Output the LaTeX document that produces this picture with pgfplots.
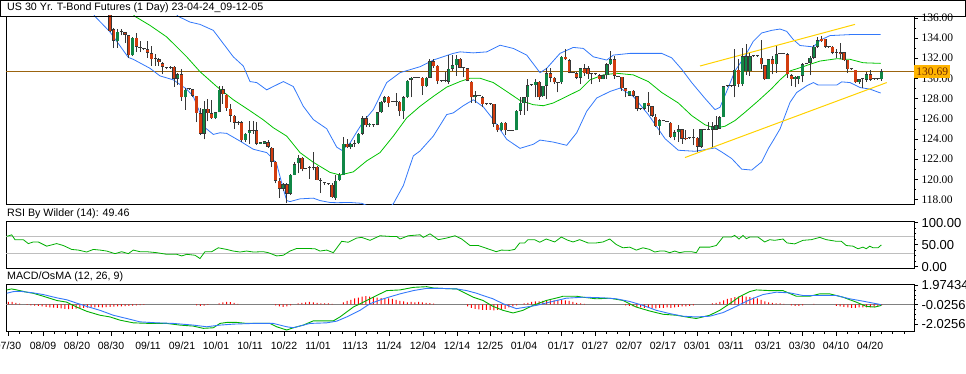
\documentclass[border=0pt]{standalone}
\usepackage{pgfplots}
\pgfplotsset{compat=1.18}
\usepackage{pgfplotstable}
\usepackage{fontspec}
\setmainfont{Liberation Sans}
\newfontfamily\serifnum{Liberation Serif}

\definecolor{upc}{RGB}{16,135,70}
\definecolor{dnc}{RGB}{210,60,15}
\definecolor{wick}{RGB}{55,55,55}
\definecolor{bandblue}{RGB}{50,120,250}
\definecolor{magreen}{RGB}{0,195,0}
\definecolor{trendy}{RGB}{255,210,0}
\definecolor{pbrown}{RGB}{155,100,15}
\definecolor{boxor}{RGB}{255,180,0}
\definecolor{pricetxt}{RGB}{110,40,0}
\definecolor{lgray}{RGB}{190,190,190}
\definecolor{zgray}{RGB}{128,128,128}

\pgfplotstableread{
k o h l c
0 137.00 137.30 134.60 134.70
1 134.86 135.00 133.00 133.72
2 133.70 134.85 133.03 134.60
3 134.60 134.90 134.25 134.65
4 134.57 134.60 133.50 134.34
5 134.28 134.30 132.05 132.28
6 132.28 134.10 132.20 134.00
7 134.05 134.50 132.60 133.13
8 133.00 133.70 132.60 133.05
9 132.95 133.00 132.80 132.90
10 132.87 133.70 132.05 132.54
11 132.48 133.20 131.23 131.89
12 131.90 132.40 131.23 131.92
13 131.89 132.05 131.23 131.63
14 131.50 131.63 130.42 131.17
15 131.05 131.10 130.90 131.05
16 131.10 131.20 130.95 131.12
17 131.13 131.23 129.17 129.99
18 129.99 130.58 129.34 130.42
19 130.42 130.97 127.80 128.13
20 128.13 129.10 126.88 128.88
21 128.94 128.95 128.93 128.94
22 128.94 128.94 128.13 128.29
23 128.29 128.30 125.67 126.56
24 126.56 127.05 124.40 124.53
25 124.53 127.80 123.97 126.98
26 126.98 127.96 125.74 126.56
27 126.56 127.90 126.00 126.06
28 126.06 126.70 126.00 126.65
29 126.65 129.27 126.65 128.88
30 128.94 129.27 127.47 128.45
31 128.39 128.45 126.80 127.05
32 126.98 127.47 125.67 126.33
33 126.33 126.40 125.00 125.60
34 125.60 125.80 125.40 125.67
35 125.67 125.74 123.71 123.87
36 123.87 124.60 123.70 124.53
37 124.60 125.74 123.55 124.85
38 124.85 125.74 124.50 124.90
39 124.85 125.70 123.40 123.55
40 123.55 123.75 123.50 123.70
41 123.55 123.85 123.50 123.80
42 123.70 123.90 123.10 123.22
43 123.15 123.22 121.25 121.75
44 121.75 121.80 119.60 119.88
45 119.88 120.10 118.15 119.06
46 119.06 119.60 118.90 119.52
47 119.52 119.60 117.66 118.57
48 118.57 120.50 118.50 120.44
49 120.44 121.75 120.44 121.52
50 121.60 122.40 120.60 122.17
51 122.17 122.25 120.80 121.00
52 121.09 121.15 121.00 121.09
53 121.20 121.30 120.05 121.26
54 121.10 122.70 120.90 121.20
55 121.26 121.30 119.90 119.95
56 119.95 120.10 118.64 119.85
57 119.70 119.70 119.45 119.60
58 119.52 119.55 119.50 119.52
59 119.46 119.60 118.15 118.25
60 118.15 120.44 117.98 119.88
61 119.95 120.60 119.80 120.44
62 120.44 124.20 120.44 123.55
63 123.55 124.00 123.10 123.20
64 123.20 123.60 123.00 123.55
65 123.55 123.90 123.20 123.60
66 123.60 124.60 123.50 124.53
67 124.53 126.33 124.40 126.06
68 126.06 126.30 125.20 125.35
69 125.35 125.60 125.20 125.50
70 125.45 125.50 125.20 125.35
71 125.41 126.70 125.35 126.65
72 126.65 127.80 126.60 127.70
73 127.70 128.30 127.60 128.13
74 128.20 128.30 127.14 127.57
75 127.70 127.72 127.68 127.70
76 127.70 128.55 127.30 127.75
77 127.70 127.75 126.33 126.75
78 126.75 128.29 126.00 128.13
79 128.13 129.80 128.10 129.76
80 129.86 130.10 128.13 130.09
81 130.09 130.11 130.07 130.09
82 130.09 130.11 130.07 130.09
83 130.09 130.10 128.35 129.21
84 129.21 130.10 129.15 130.09
85 130.09 131.95 130.09 131.72
86 131.72 131.95 131.07 131.23
87 131.23 131.30 129.43 129.73
88 129.73 129.75 129.71 129.73
89 129.70 130.64 129.60 129.80
90 129.66 132.28 129.43 130.97
91 130.97 132.28 130.74 131.30
92 131.30 132.28 130.25 131.95
93 131.95 132.00 131.00 131.07
94 131.07 131.10 130.10 131.07
95 131.00 131.07 129.70 129.76
96 129.66 129.70 127.57 128.13
97 128.13 128.78 127.57 128.35
98 128.30 128.32 128.28 128.30
99 128.13 128.29 127.14 127.47
100 127.47 127.49 127.45 127.47
101 127.47 127.49 127.45 127.47
102 127.47 127.47 125.18 125.51
103 125.41 125.45 124.69 124.85
104 124.85 125.70 124.80 125.61
105 125.61 125.65 124.36 124.85
106 124.85 124.87 124.83 124.85
107 124.85 124.87 124.83 124.85
108 124.85 126.90 124.85 126.82
109 126.82 128.13 126.39 127.57
110 127.57 128.20 126.39 128.13
111 128.13 129.92 126.82 129.34
112 129.34 129.36 129.32 129.34
113 129.34 129.92 128.13 129.66
114 129.66 129.70 127.90 128.13
115 128.22 129.30 128.20 129.27
116 129.27 131.07 127.96 130.51
117 130.51 131.07 129.60 130.09
118 130.09 130.10 129.43 129.60
119 129.60 129.62 128.62 129.60
120 129.60 132.21 129.43 132.12
121 132.12 132.87 131.80 131.89
122 131.79 131.89 130.50 130.58
123 130.58 130.60 130.56 130.58
124 130.51 130.64 129.92 130.09
125 130.09 131.07 129.43 131.00
126 131.00 131.40 130.25 130.51
127 131.00 131.20 129.92 130.41
128 130.41 130.43 129.43 130.41
129 130.41 130.43 130.39 130.41
130 130.32 130.41 129.66 129.92
131 129.92 130.35 129.90 130.32
132 130.32 131.56 129.92 131.40
133 131.40 132.71 131.30 131.89
134 131.89 132.21 129.99 130.25
135 130.19 130.21 130.17 130.19
136 130.15 130.15 128.78 129.01
137 129.01 129.05 128.13 128.71
138 128.29 128.80 128.25 128.78
139 128.78 128.90 128.20 128.29
140 128.22 128.22 126.75 126.98
141 126.98 127.00 126.96 126.98
142 126.98 127.60 126.90 127.57
143 127.57 128.68 126.65 127.31
144 127.24 127.30 126.16 126.33
145 126.23 126.49 125.18 125.28
146 125.28 126.00 124.43 125.84
147 125.84 125.86 125.82 125.84
148 125.74 125.76 125.72 125.74
149 125.61 125.67 124.10 124.20
150 124.20 124.85 123.87 124.69
151 124.69 125.35 123.71 124.95
152 124.95 125.02 123.55 124.04
153 124.10 124.85 123.87 123.97
154 124.10 124.12 124.08 124.10
155 124.10 125.02 123.38 124.10
156 124.10 124.20 122.73 123.22
157 123.22 125.02 123.12 124.95
158 124.95 124.97 124.93 124.95
159 124.95 125.67 124.90 124.95
160 124.92 125.67 123.22 125.25
161 124.92 126.33 124.90 125.35
162 125.02 126.33 125.00 126.16
163 126.16 129.27 126.16 129.21
164 129.27 129.29 129.25 129.27
165 129.27 129.29 129.25 129.27
166 129.27 132.87 128.13 130.84
167 130.84 131.89 129.11 129.43
168 129.43 133.03 129.27 132.21
169 130.74 133.36 130.32 132.21
170 130.74 132.54 130.25 132.21
171 132.21 132.23 132.19 132.21
172 132.21 132.23 132.19 132.21
173 132.05 133.85 130.91 131.40
174 131.30 131.30 129.86 129.92
175 129.92 131.90 129.90 131.89
176 131.89 132.21 130.41 131.40
177 131.40 133.20 130.58 132.38
178 132.48 132.50 132.46 132.48
179 132.48 132.50 132.46 132.48
180 132.38 132.48 130.09 130.41
181 130.32 130.41 129.27 129.92
182 129.92 130.20 129.11 130.19
183 129.92 130.25 129.43 130.25
184 130.25 131.49 129.60 131.40
185 131.46 131.48 131.44 131.46
186 131.56 132.21 130.32 132.05
187 132.05 133.26 131.89 133.13
188 133.13 134.11 133.03 133.78
189 133.92 134.18 133.59 133.69
190 133.92 133.92 133.03 133.13
191 133.13 133.15 133.11 133.13
192 133.13 133.20 132.38 132.54
193 132.54 132.87 132.05 132.54
194 132.61 133.46 131.89 132.38
195 132.61 132.61 131.72 131.82
196 131.82 131.82 130.52 130.91
197 130.91 130.93 130.89 130.91
198 130.84 130.84 129.50 129.60
199 129.60 129.99 129.43 129.92
200 129.92 129.99 129.01 129.92
201 129.86 130.64 129.66 130.41
202 130.41 130.81 129.76 129.86
203 129.92 129.94 129.90 129.92
204 129.92 129.94 129.90 129.92
205 129.92 130.91 129.76 130.69
}\ohlc

\pgfplotstableread{
k v
-27 0.25
-26 0.25
-25 0.15
-24 0.08
-22 -0.05
-21 -0.10
-20 -0.12
-19 -0.15
-18 -0.20
-17 -0.25
-16 -0.30
-15 -0.32
-14 -0.35
-13 -0.40
-12 -0.45
-11 -0.47
-10 -0.45
-9 -0.42
-8 -0.38
-7 -0.35
-6 -0.32
-5 -0.30
-4 -0.30
-3 -0.28
-2 -0.30
-1 -0.28
0 -0.25
1 -0.22
2 -0.20
3 -0.20
4 -0.18
5 -0.15
6 -0.12
7 -0.10
8 -0.08
9 -0.05
23 -0.10
24 -0.15
25 -0.12
26 -0.05
29 0.10
30 0.20
31 0.25
32 0.22
33 0.15
34 0.05
44 -0.10
45 -0.20
46 -0.25
47 -0.20
48 -0.10
50 0.10
51 0.15
52 0.20
53 0.25
54 0.20
55 0.15
56 0.10
57 0.10
58 0.10
59 0.05
62 0.20
63 0.35
64 0.45
65 0.60
66 0.70
67 0.80
68 0.85
69 0.80
70 0.75
71 0.70
72 0.65
73 0.60
74 0.60
75 0.55
76 0.45
77 0.35
78 0.30
79 0.20
80 0.25
81 0.20
82 0.25
83 0.20
84 0.15
85 0.12
86 0.08
95 -0.20
96 -0.35
97 -0.45
98 -0.50
99 -0.55
100 -0.55
101 -0.55
102 -0.60
103 -0.55
104 -0.50
105 -0.45
106 -0.30
107 -0.20
108 -0.10
110 0.10
111 0.15
112 0.25
113 0.30
114 0.30
115 0.35
116 0.35
117 0.40
118 0.40
119 0.45
120 0.45
121 0.40
122 0.35
123 0.25
124 0.15
125 0.10
126 0.05
137 -0.10
138 -0.15
139 -0.20
140 -0.25
141 -0.30
142 -0.35
143 -0.35
144 -0.40
145 -0.40
146 -0.35
147 -0.35
148 -0.30
149 -0.35
150 -0.30
151 -0.25
152 -0.20
153 -0.20
154 -0.15
155 -0.10
160 0.10
161 0.15
162 0.25
163 0.40
164 0.55
165 0.65
166 0.75
167 0.80
168 0.85
169 0.80
170 0.75
171 0.70
172 0.60
173 0.45
174 0.30
175 0.20
176 0.15
177 0.10
178 0.10
179 0.05
181 -0.10
182 -0.15
183 -0.15
184 -0.10
187 0.05
193 -0.15
194 -0.20
195 -0.25
196 -0.30
197 -0.35
198 -0.35
199 -0.30
200 -0.30
201 -0.30
202 -0.30
203 -0.25
204 -0.20
205 -0.10
}\osma

\begin{document}
\begin{tikzpicture}[x=1pt,y=1pt]
\pgfplotsset{
  panel/.style={scale only axis, width=908pt, xmin=6, xmax=914,
    axis line style={black, line width=0.9pt},
    tick style={black, line width=0.6pt},
    major tick length=4pt, minor tick length=2pt,
    tick align=outside, ytick pos=right, yticklabel pos=right,
    xtick=\empty, clip=true, anchor=south west},
  candle/.style={draw=none, mark=none, forget plot},
}
% ---------------- price panel ----------------
\begin{axis}[panel, at={(6pt,169pt)}, height=188pt,
  ymin=117.57, ymax=136.18,
  ytick={118,120,122,124,126,128,130,132,134,136},
  yticklabels={118.00,120.00,122.00,124.00,126.00,128.00,130.00,132.00,134.00,136.00},
  minor ytick={119,121,123,125,127,129,131,133,135},
  yticklabel style={font=\serifnum\fontsize{11.5}{12}\selectfont, anchor=west},
  extra y ticks={130.69}, extra y tick labels={130.69},
  extra y tick style={major tick length=0pt,
     tick label style={fill=boxor, text=pricetxt, inner xsep=2.2pt, inner ysep=2.2pt}},
]
\addplot[pbrown, line width=1pt] coordinates {(6,130.69) (914,130.69)};
% upper band
\addplot[bandblue, line width=0.8pt] coordinates {
(172,136.8) (178.3,136.14) (190,135.58) (200,135.35) (213.3,134.76) (233.3,132.14)
(243.3,131.23) (250,129.69) (256.7,129.59) (266.7,128.87) (273.3,129.20) (283.3,129.69)
(293.3,129.20) (303.3,127.24) (313.3,125.93) (326.7,125.02) (336.7,123.2) (341.7,122.89)
(350,123.60) (356.7,124.7) (363.3,125.73) (373.3,126.91) (386.7,129.59) (400,130.57)
(420,131.16) (433.3,131.82) (453.3,132.48) (460,132.63) (473.3,132.53) (486.7,132.63)
(500,133.29) (513.3,132.97) (526.7,132.31) (540,130.57) (546.7,131.00) (560,132.48)
(573.3,133.07) (583.3,132.97) (593.3,132.14) (606.7,131.82) (613.3,132.31) (630,132.48)
(648.3,132.48) (661.7,132.48) (671.7,132.04) (681.7,130.91) (691.7,129.59) (705,128.02)
(715,126.91) (720,127.14) (728.3,129.10) (735,130.74) (745,132.21) (753.3,133.68)
(761.7,134.50) (771.7,134.76) (780,134.89) (786.7,134.66) (793.3,133.85) (800,133.26)
(813.3,133.12) (820,133.78) (830,134.24) (850,134.34) (880.7,134.34)};
% lower band
\addplot[bandblue, line width=0.8pt] coordinates {
(88,137.2) (95,136.14) (110,134.60) (128.3,132.08) (133.3,131.89) (150,131.00)
(160,130.25) (173.3,129.86) (186.7,128.94) (193.3,128.22) (200,126.59) (203.3,125.27)
(213.3,124.46) (220,124.62) (226.7,124.56) (240,123.80) (253.3,122.99) (266.7,122.66)
(271.7,122.17) (276.7,121.52) (283.3,119.06) (286.7,117.91) (290,117.81) (300,118.08)
(313.3,118.15) (320,117.91) (330,117.72) (336.7,117.70) (350,117.72) (361.7,117.64)
(372,117.2) (385,116.9) (393.3,117.59) (403.3,119.39) (413.3,122.33) (420,122.82)
(433.3,124.29) (446.7,126.42) (453.3,126.59) (463.3,127.30) (473.3,127.89) (483.3,127.18)
(493.3,125.93) (506.7,123.97) (520,123.08) (533.3,123.48) (540,123.90) (553.3,123.70)
(566.7,123.38) (576.7,124.62) (586.7,126.75) (596.7,128.06) (610,128.71) (620,129.04)
(633.3,128.22) (648.3,126.42) (665,124.04) (678.3,122.89) (695,122.79) (715,123.12)
(721.7,122.72) (731.7,122.07) (741.7,121.02) (751.7,120.93) (761.7,121.74) (768.3,123.06)
(773.3,123.87) (780,125.0) (790,127.63) (796.7,128.61) (806.7,129.27) (813.3,129.59)
(818.3,129.34) (836.7,129.34) (841.7,129.66) (850,129.59) (860,129.10) (870,128.94)
(880.7,128.55)};
% middle moving average
\addplot[magreen, line width=0.8pt] coordinates {
(128,136.9) (135,136.14) (150,135.25) (166.7,134.11) (186.7,132.14) (200,130.67)
(216.7,129.20) (233.3,127.89) (250,126.8) (263.3,125.9) (273.3,125.12) (286.7,124.29)
(300,122.66) (313.3,121.7) (330,120.7) (340,120.44) (353.3,120.75) (366.7,121.84)
(380,122.66) (393.3,124.29) (406.7,126.10) (420,127.24) (433.3,128.22) (446.7,129.14)
(460,129.69) (470,130.02) (480,130.02) (493.3,129.59) (506.7,128.71) (520,127.82)
(533.3,127.40) (543.3,127.30) (553.3,127.57) (566.7,128.22) (580,128.87) (590,129.86)
(603.3,130.35) (616.7,130.51) (633.3,130.35) (648.3,129.69) (661.7,128.61) (678.3,127.57)
(691.7,126.32) (705,125.41) (715,125.08) (725,125.27) (735,125.83) (745,126.65)
(758.3,127.79) (771.7,129.0) (780,129.86) (790,130.74) (800,131.06) (810,131.40)
(820,131.72) (836.7,131.95) (850,131.89) (863.3,131.55) (880.7,131.49)};
% trend channel
\addplot[trendy, line width=1pt] coordinates {(700,131.23) (855,135.35)};
\addplot[trendy, line width=1pt] coordinates {(685,122.17) (886.7,129.59)};
% candle wicks
\addplot[candle, error bars/.cd, y dir=plus, y explicit,
  error mark=none, error bar style={draw=wick, line width=0.9pt}]
  table[x expr={110+3.764*\thisrow{k}}, y=l, y error expr={\thisrow{h}-\thisrow{l}}] {\ohlc};
% candle body outlines
\addplot[candle, error bars/.cd, y dir=plus, y explicit,
  error mark=none, error bar style={draw=wick, line width=3.3pt}]
  table[x expr={110+3.764*\thisrow{k}}, y expr={min(\thisrow{o},\thisrow{c})},
        y error expr={max(abs(\thisrow{c}-\thisrow{o}),0.08)}] {\ohlc};
% up bodies
\addplot[candle, restrict expr to domain={\thisrow{c}-\thisrow{o}}{0.12:100},
  error bars/.cd, y dir=plus, y explicit, error mark=none,
  error bar style={draw=upc, line width=2.5pt, shorten <=0.45pt, shorten >=0.45pt}]
  table[x expr={110+3.764*\thisrow{k}}, y=o, y error expr={\thisrow{c}-\thisrow{o}}] {\ohlc};
% down bodies
\addplot[candle, restrict expr to domain={\thisrow{o}-\thisrow{c}}{0.12:100},
  error bars/.cd, y dir=plus, y explicit, error mark=none,
  error bar style={draw=dnc, line width=2.5pt, shorten <=0.45pt, shorten >=0.45pt}]
  table[x expr={110+3.764*\thisrow{k}}, y=c, y error expr={\thisrow{o}-\thisrow{c}}] {\ohlc};
\end{axis}

% ---------------- RSI panel ----------------
\begin{axis}[panel, at={(6pt,105pt)}, height=47pt,
  ymin=-3, ymax=104,
  ytick={0,50,100}, yticklabels={0.00,50.00,100.00},
  minor ytick={12.5,25,37.5,62.5,75,87.5},
  yticklabel style={font=\fontsize{13}{14}\selectfont, anchor=west},
]
\addplot[lgray, line width=0.8pt] coordinates {(6,70) (914,70)};
\addplot[lgray, line width=0.8pt] coordinates {(6,30) (914,30)};
\addplot[magreen!90!black, line width=0.8pt] coordinates {
(6.7,68.9) (11.7,72.6) (15,61.5) (23.3,61.5) (28.3,52.6) (33.3,56.3) (38.3,56.3) (46.7,46.7)
(56.7,52.6) (63.3,48.2) (71.7,39.3) (78.3,37.8) (86.7,33.4) (93.3,39.3) (100,37.8) (106.7,35.6)
(115,29.7) (121.7,34.1) (128.3,29.7) (133.3,37.8) (140,34.1) (146.7,34.1) (156.7,31.9)
(166.7,28.2) (176.7,28.2) (181.7,24.5) (186.7,28.2) (195,26.0) (200,18.6) (205,34.1)
(211.7,34.1) (218.3,43.0) (226.7,39.3) (233.3,35.6) (240,33.4) (246.7,35.6) (253.3,33.4)
(263.3,34.1) (268.3,31.9) (276.7,24.5) (283.3,26.0) (290,35.6) (296.7,41.5) (306.7,41.5)
(315,40.8) (320,35.6) (326.7,37.8) (333.3,31.9) (341.7,57.8) (348.3,55.6) (356.7,65.2)
(361.7,66.7) (370,60.0) (380,70.4) (390,68.9) (396.7,68.9) (400,63.0) (408.3,70.4)
(420,72.6) (423.3,66.7) (430,74.8) (438.3,61.5) (446.7,65.2) (455,70.4) (461.7,63.0)
(470,48.2) (478.3,48.2)
(483,44.5) (489.7,39.3) (496.3,34.1) (501.3,37.8) (509.7,37.1) (514.7,39.3) (519.7,54.1)
(524.7,54.1) (528,61.5) (534.7,61.5) (539.7,55.6) (546.3,63.0) (554.7,56.3) (561.3,67.4)
(568,60.0) (573,56.3) (579.7,61.5) (588,54.1) (596.3,54.1) (603,56.3) (609.7,63.0)
(616.3,50.4) (623,43.0) (629.7,44.5) (636.3,37.8) (643,43.0) (649.7,39.3) (654.7,33.4)
(659.7,35.6) (664.7,35.6) (669.7,31.9) (674.7,35.6) (679.7,31.9) (684.7,34.1) (691.3,34.1)
(696.3,31.9) (699.7,44.5) (709.7,44.5) (716.3,48.2) (723,67.4) (731.3,67.4) (734.7,71.1)
(739,63.0) (743,71.1) (746.3,63.7) (749.7,67.4) (758,67.4) (764.7,56.3) (769.7,61.5)
(774.7,60.0) (783,63.0) (787,54.1) (794.7,51.9) (803,60.0) (811.3,61.5) (819.7,66.7)
(826.3,61.5) (836.3,57.8) (841.3,57.8) (846.3,48.2) (853,46.7) (858,40.8) (863,44.5)
(866.3,40.8) (869.7,46.7) (873,43.0) (878,43.0) (881.3,49.46)};
\end{axis}

% ---------------- MACD panel ----------------
\begin{axis}[panel, at={(6pt,41.5pt)}, height=47pt,
  ymin=-2.75, ymax=2.02,
  ytick={-2.02566,-0.02566,1.97434}, yticklabels={-2.02566,-0.02566,1.97434},
  minor ytick={-1.52566,-1.02566,-0.52566,0.47434,0.97434,1.47434},
  yticklabel style={font=\fontsize{13}{14}\selectfont, anchor=west},
  xtick={8,43,77,111,148,182,216,250,284,318,355,389,423,457,490,524,561,595,629,663,697,731,768,802,836,870},
  xticklabels={07/30,08/09,08/20,08/30,09/11,09/21,10/01,10/11,10/22,11/01,11/13,11/24,12/04,12/14,12/25,01/04,01/17,01/27,02/07,02/17,03/01,03/11,03/21,03/30,04/10,04/20},
  minor xtick={19.7,31.3,54.3,65.7,88.3,99.7,123.3,135.7,159.3,170.7,193.3,204.7,227.3,238.7,261.3,272.7,295.3,306.7,330.3,342.7,366.3,377.7,400.3,411.7,434.3,445.7,468,479,501.3,512.7,536.3,548.7,572.3,583.7,606.3,617.7,640.3,651.7,674.3,685.7,708.3,719.7,743.3,755.7,779.3,790.7,813.3,824.7,847.3,858.7,881.3,892.7,904},
  xtick pos=bottom,
  xticklabel style={font=\fontsize{10.5}{11}\selectfont, yshift=-3pt},
]
\addplot[zgray, line width=0.9pt] coordinates {(6,-0.02566) (914,-0.02566)};
\addplot[ybar, bar width=1pt, fill=red, draw=none]
  table[x expr={110+3.764*\thisrow{k}}, y=v] {\osma};
\addplot[magreen!90!black, line width=0.9pt] coordinates {
(6.7,1.47) (11.7,1.57) (20,1.40) (26.7,1.24) (33.3,1.13) (43.3,0.83) (56.7,0.40) (66.7,0.23)
(76.7,-0.27) (86.7,-0.70) (100,-1.10) (110,-1.27) (120,-1.60) (133.3,-1.87) (150,-1.93)
(166.7,-1.93) (180,-2.10) (193.3,-2.20) (203.3,-2.43) (213.3,-2.37) (220,-1.93) (226.7,-1.83)
(236.7,-1.83) (246.7,-1.93) (270,-1.93) (276.7,-2.27) (286.7,-2.60) (293.3,-2.37) (303.3,-2.10)
(313.3,-1.67) (333.3,-1.67) (340,-1.27) (353.3,-0.27) (366.7,0.40) (380,1.07) (386.7,1.40)
(400,1.47) (413.3,1.73) (426.7,1.80) (433.3,1.67) (446.7,1.60) (456.7,1.57) (466.7,1.07)
(473.3,0.73) (483,0.40) (493,-0.20) (503,-0.60) (513,-0.87) (523,-0.60) (533,-0.10)
(546.3,0.40) (559.7,0.73) (563,0.83) (576.3,0.83) (583,0.73) (596.3,0.57) (609.7,0.63)
(623,0.40) (636.3,-0.27) (649.7,-0.67) (663,-1.00) (676.3,-1.10) (689.7,-1.33) (696.3,-1.43)
(709.7,-1.10) (719.7,-0.60) (729.7,0.07) (739.7,0.80) (749.7,1.30) (756.3,1.47) (769.7,1.40)
(783,1.40) (796.3,0.83) (809.7,0.83) (819.7,1.07) (829.7,1.07) (843,0.73) (856.3,0.23)
(866.3,-0.20) (874.7,-0.27) (881.3,-0.10)};
\addplot[bandblue, line width=0.9pt] coordinates {
(6.7,1.13) (13.3,1.30) (20,1.33) (33.3,1.17) (43.3,1.00) (56.7,0.67) (66.7,0.47) (76.7,0.13)
(86.7,-0.20) (100,-0.60) (113.3,-1.10) (126.7,-1.43) (140,-1.77) (156.7,-1.87) (173.3,-1.93)
(193.3,-2.10) (206.7,-2.27) (220,-2.10) (233.3,-2.00) (253.3,-1.93) (273.3,-1.93) (286.7,-2.27)
(293.3,-2.37) (310,-1.93) (326.7,-1.87) (336.7,-1.70) (346.7,-1.27) (360,-0.60) (370,0.07)
(383.3,0.57) (400,1.07) (413.3,1.40) (426.7,1.63) (440,1.63) (456.7,1.57) (466.7,1.40)
(476.7,1.13) (483,0.90) (493,0.57) (503,0.07) (516.3,-0.43) (526.3,-0.27) (536.3,-0.10)
(549.7,0.23) (566.3,0.63) (583,0.73) (603,0.67) (616.3,0.57) (629.7,0.30) (643,-0.10)
(656.3,-0.60) (669.7,-0.93) (683,-1.20) (696.3,-1.27) (709.7,-1.20) (723,-0.83) (736.3,-0.20)
(749.7,0.47) (763,1.00) (776.3,1.24) (789.7,1.17) (803,0.90) (816.3,0.90) (836.3,0.90)
(849.7,0.57) (863,0.33) (876.3,0.07) (881.3,-0.03)};
\end{axis}

% ---------------- titles ----------------
\draw[black, line width=0.9pt] (0.5,357) rectangle (965.5,372.5);
\node[anchor=west, inner sep=0pt, font=\fontsize{10.7}{12}\selectfont] at (7,365)
  {US 30 Yr. T-Bond Futures (1 Day) 23-04-24\_09-12-05};
\node[anchor=west, inner sep=0pt, font=\fontsize{10.7}{12}\selectfont] at (7,159)
  {RSI By Wilder (14): 49.46};
\node[anchor=west, inner sep=0pt, font=\fontsize{10.7}{12}\selectfont] at (7,96)
  {MACD/OsMA (12, 26, 9)};
\pgfresetboundingbox
\path[use as bounding box] (0,0) rectangle (966,373);
\end{tikzpicture}
\end{document}
